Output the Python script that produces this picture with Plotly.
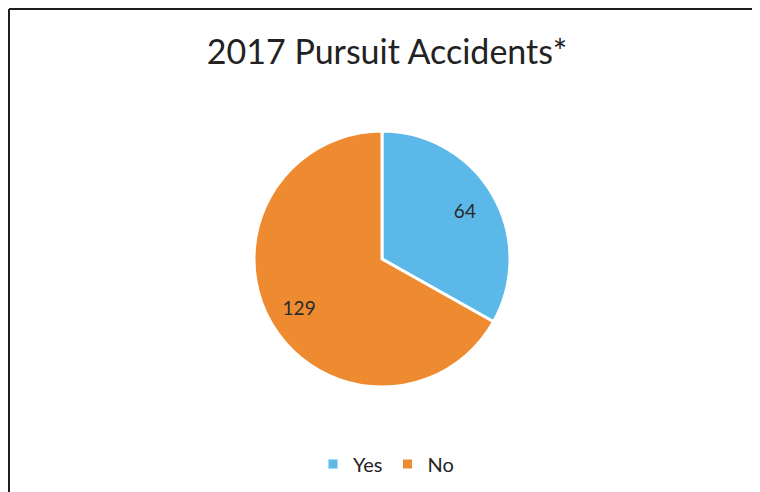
import plotly.graph_objects as go

labels = ["Yes", "No"]
values = [64, 129]
colors = ["#5BB8E8", "#EE8A30"]
title_text = "2017 Pursuit Accidents*"

W, H = 760, 492
OFF = 8  # default page body margin


def px(x):
    return (x - OFF) / W


def py(y):
    return 1 - (y - OFF) / H


FONT = "Lato, Open Sans, sans-serif"
dom = dict(x=[px(254), px(510)], y=[py(387), py(131)])

fig = go.Figure()
fig.add_trace(go.Pie(
    labels=labels, values=values, sort=False, direction="clockwise", rotation=0,
    marker=dict(colors=colors, line=dict(color="white", width=3)),
    textinfo="none", domain=dom, hoverinfo="label+value",
))
# transparent ring overlay so value labels sit at ~3/4 radius like the original
fig.add_trace(go.Pie(
    labels=labels, values=values, sort=False, direction="clockwise", rotation=0,
    hole=0.5, showlegend=False,
    marker=dict(colors=["rgba(0,0,0,0)"] * len(values), line=dict(width=0)),
    textinfo="value", textposition="inside", insidetextorientation="horizontal",
    textfont=dict(family=FONT, size=19, color="#2a2a2a"),
    domain=dom, hoverinfo="skip",
))

line_style = dict(color="#1e1e1e", width=2)
fig.add_shape(type="line", xref="paper", yref="paper", x0=px(9), x1=px(753), y0=py(9), y1=py(9), line=line_style)
fig.add_shape(type="line", xref="paper", yref="paper", x0=px(9), x1=px(9), y0=py(9), y1=0, line=line_style)
fig.add_shape(type="line", xref="paper", yref="paper", x0=px(753), x1=px(753), y0=py(9), y1=0, line=line_style)

fig.update_layout(
    width=W, height=H,
    margin=dict(l=0, r=0, t=0, b=0),
    paper_bgcolor="white", plot_bgcolor="white",
    title=dict(text=title_text, x=px(387), xanchor="center", y=py(52), yanchor="middle",
               font=dict(family=FONT, size=34, color="#222222")),
    showlegend=True,
    legend=dict(orientation="h", x=px(386), xanchor="center", y=py(464), yanchor="middle",
                font=dict(family=FONT, size=20, color="#222222"),
                itemwidth=30, traceorder="normal"),
)
fig.write_html("out.html")
